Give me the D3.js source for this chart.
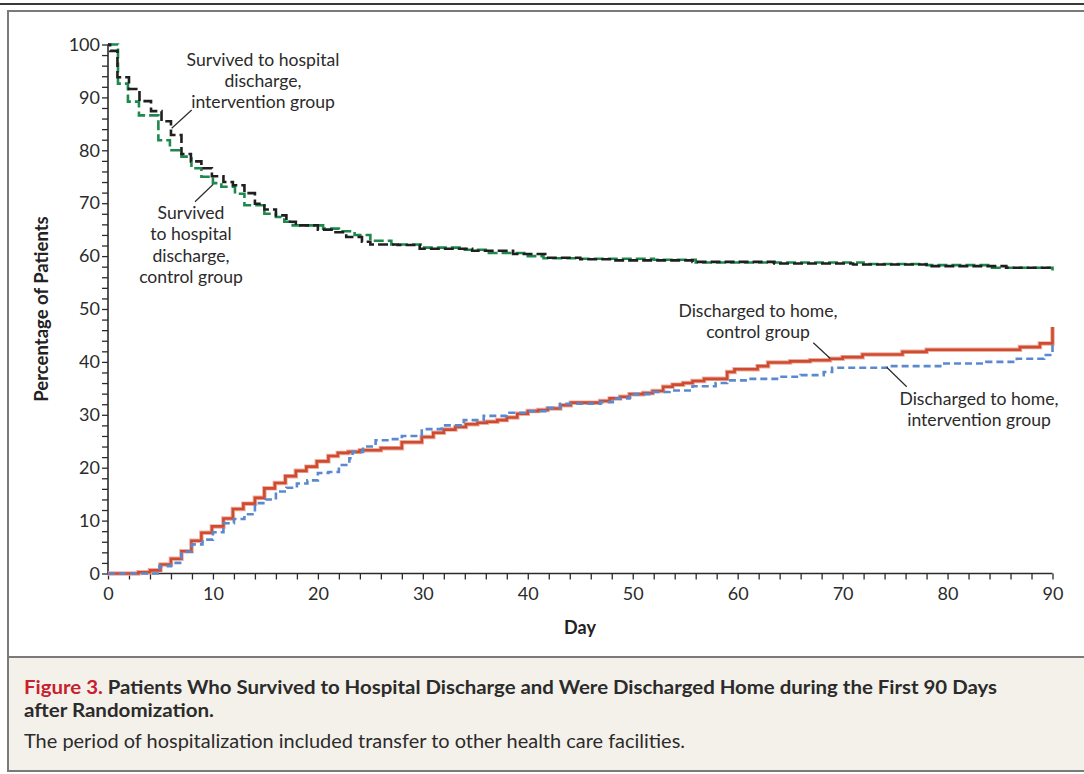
<!DOCTYPE html>
<html><head><meta charset="utf-8">
<script src="https://cdn.jsdelivr.net/npm/d3@7"></script>
<style>
html,body{margin:0;padding:0;background:#fff;}
svg{display:block;}
</style>
</head><body>
<svg id="chart" width="1084" height="774"></svg>
<script>
// ---- data (day, percentage) step series ----
const survivedIntervention = [[0,100],[0.2,98.8],[0.9,93.8],[2.0,91.6],[3.0,89.3],[4.1,87.4],[5.1,85.5],[6.0,82.9],[7.0,79.3],[7.9,77.9],[8.9,76.6],[9.9,75.1],[11.0,74.0],[11.9,73.4],[13.0,71.9],[14.0,69.9],[14.9,68.8],[16.0,67.7],[17.0,66.5],[17.9,65.8],[20.0,65.0],[21.3,64.5],[22.7,63.6],[24.2,62.7],[25.0,62.2],[27.6,62.1],[29.7,61.4],[34.7,61.0],[38.6,60.4],[41.8,59.7],[45.0,59.4],[48.0,59.2],[55.7,58.9],[63.5,58.6],[71.0,58.4],[78.0,58.1],[85.6,57.8],[90,57.5]];
const survivedControl = [[0,100],[0.95,92.6],[1.9,89.2],[2.95,86.6],[4.8,81.9],[5.9,80.0],[7.0,78.8],[7.95,76.6],[8.9,75.0],[10.0,73.8],[10.8,73.1],[12.1,71.8],[13.0,69.6],[14.9,68.0],[16.0,67.4],[16.8,66.5],[17.6,65.8],[20.5,65.2],[22.0,64.7],[23.5,64.0],[25.0,62.9],[27.0,62.2],[30.0,61.6],[34.0,61.2],[36.0,60.6],[40.0,60.0],[41.5,59.6],[45.0,59.5],[52.0,59.3],[56.0,58.8],[66.0,58.8],[72.0,58.5],[78.0,58.3],[84.0,57.8],[90,57.3]];
const homeControl = [[0,0],[2.9,0.25],[4,0.6],[5,1.7],[6,2.8],[7,4.2],[7.95,6.2],[8.9,7.7],[9.9,8.9],[11,10.4],[11.9,12.2],[12.9,13.2],[14,14.3],[14.9,16.1],[15.9,17.1],[16.9,18.4],[17.9,19.4],[18.9,20.2],[19.9,21.2],[21,22.2],[21.9,22.8],[22.9,23.0],[24,23.3],[26,23.7],[28,24.8],[29.9,25.8],[31,26.6],[32,27.2],[33.1,27.7],[34.1,28.2],[35.2,28.5],[36.1,28.7],[37.1,29.0],[38,29.5],[39,30.2],[40,30.7],[41,30.9],[41.9,31.2],[43.1,31.8],[44.1,32.3],[46.9,32.6],[47.8,33.1],[48.8,33.4],[49.7,33.9],[51,34.1],[51.9,34.5],[52.9,35.3],[53.8,35.7],[54.8,36.0],[55.7,36.4],[56.8,36.8],[59,38.1],[59.7,38.6],[61.9,39.2],[62.9,39.9],[65,40.1],[66.9,40.3],[68.8,40.6],[70,40.9],[71.9,41.4],[75.7,41.9],[78,42.3],[86.9,42.8],[88.8,43.5],[90,46.6]];
const homeIntervention = [[0,0],[4.9,1.4],[6,2.0],[7,4.1],[8,5.5],[9,6.4],[10,7.8],[11,9.5],[12,10.3],[13,11.2],[14,13.3],[15,14.0],[16,15.5],[17,16.2],[18,17.0],[19,17.6],[20,19.0],[21,19.2],[22,20.5],[23,21.8],[23.3,23.0],[24.3,24.0],[25.5,25.2],[26.8,25.4],[28,26.0],[29.9,27.3],[31.8,28.0],[33.9,29.0],[35.8,29.8],[38,30.4],[40,30.7],[41.9,31.3],[43.1,32.1],[46.9,32.4],[48.1,33.1],[49.7,33.9],[51.9,34.3],[53.5,34.6],[55.7,35.4],[57.9,36.0],[59,36.5],[61,36.8],[64,37.2],[66,37.5],[68.2,38.1],[69,38.9],[74.2,39.2],[79.3,39.7],[83.7,40.0],[86.6,40.6],[89.2,41.3],[90,43.8]];
const xTicks = [0,10,20,30,40,50,60,70,80,90];
const yTicks = [0,10,20,30,40,50,60,70,80,90,100];
const xLabel = "Day";
const yLabel = "Percentage of Patients";
const annotations = [
  {lines:["Survived to hospital","discharge,","intervention group"]},
  {lines:["Survived","to hospital","discharge,","control group"]},
  {lines:["Discharged to home,","control group"]},
  {lines:["Discharged to home,","intervention group"]}
];
const captionTitle = "Figure 3.";
const captionBold1 = " Patients Who Survived to Hospital Discharge and Were Discharged Home during the First 90 Days";
const captionBold2 = "after Randomization.";
const captionText = "The period of hospitalization included transfer to other health care facilities.";

// ---- drawing ----
const svg = d3.select("#chart");
const font = "Lato, 'Open Sans', sans-serif";

// frame
svg.append("line").attr("x1",0).attr("x2",1084).attr("y1",4).attr("y2",4)
  .attr("stroke","#3a3a3a").attr("stroke-width",2.2);
svg.append("rect").attr("x",8).attr("y",11).attr("width",1090).attr("height",646)
  .attr("fill","#fff").attr("stroke","#7a7a7a").attr("stroke-width",2);
svg.append("rect").attr("x",8).attr("y",657).attr("width",1090).attr("height",114)
  .attr("fill","#f4f1ea").attr("stroke","#7a7a7a").attr("stroke-width",2);

const x = d3.scaleLinear().domain([0,90]).range([108,1052.5]);
const y = d3.scaleLinear().domain([0,100]).range([573.5,44.5]);

// axes
const gx = svg.append("g").attr("transform",`translate(0,${y(0)})`);
gx.call(d3.axisBottom(x).tickValues(d3.range(0,91,2)).tickSize(6).tickFormat(""));
gx.call(g=>g.select(".domain").remove());
gx.append("g").call(d3.axisBottom(x).tickValues(xTicks).tickSize(0).tickPadding(14))
  .call(g=>g.select(".domain").remove());
const gy = svg.append("g").attr("transform",`translate(${x(0)},0)`);
gy.call(d3.axisLeft(y).tickValues(d3.range(0,101,2)).tickSize(6).tickFormat(""));
gy.call(g=>g.select(".domain").remove());
gy.append("g").call(d3.axisLeft(y).tickValues(yTicks).tickSize(0).tickPadding(8))
  .call(g=>g.select(".domain").remove());
svg.selectAll(".tick line").attr("stroke","#2b2b2b").attr("stroke-width",1.3);
svg.selectAll(".tick text").attr("font-family",font).attr("font-size",18).attr("fill","#2b2b2b");
svg.append("line").attr("x1",x(0)).attr("x2",x(90)).attr("y1",y(0)).attr("y2",y(0))
  .attr("stroke","#2b2b2b").attr("stroke-width",1.6);
svg.append("line").attr("x1",x(0)).attr("x2",x(0)).attr("y1",y(0)).attr("y2",y(100))
  .attr("stroke","#2b2b2b").attr("stroke-width",1.6);

svg.append("text").attr("x",580).attr("y",634).attr("text-anchor","middle")
  .attr("font-family",font).attr("font-weight","bold").attr("font-size",18).attr("fill","#222").text(xLabel);
svg.append("text").attr("transform","translate(48,309) rotate(-90)").attr("text-anchor","middle")
  .attr("font-family",font).attr("font-weight","bold").attr("font-size",18.5).attr("fill","#222").text(yLabel);

// lines
const line = d3.line().x(d=>x(d[0])).y(d=>y(d[1])).curve(d3.curveStepAfter);
function draw(data,color,width,dash,offset){
  svg.append("path").datum(data).attr("d",line).attr("fill","none")
    .attr("stroke",color).attr("stroke-width",width)
    .attr("stroke-dasharray",dash||null).attr("stroke-dashoffset",offset||0);
}
draw(homeControl,"#eab0a2",4.5);
draw(homeControl,"#cf4a2e",2.6);
draw(homeIntervention,"#5b89cf",2.6,"7,4");
draw(survivedControl,"#1d8a4c",2.6,"10,4",0);
draw(survivedIntervention,"#1f1f1f",2.6,"10,4",6);

// annotations
const ann = [
  {cx:263, y0:66, lh:21, lx1:191.7, ly1:110, lx2:171.7, ly2:128.3},
  {cx:191, y0:219, lh:21.3, lx1:213.3, ly1:184.3, lx2:195, ly2:201.7},
  {cx:758, y0:317, lh:21, lx1:813.3, ly1:342.7, lx2:830, ly2:358.3},
  {cx:979, y0:405, lh:21, lx1:886.7, ly1:367.3, lx2:906.7, ly2:386.7}
];
annotations.forEach((a,i)=>{
  const p = ann[i];
  const t = svg.append("text").attr("text-anchor","middle").attr("font-family",font)
    .attr("font-size",17.6).attr("fill","#2b2b2b");
  a.lines.forEach((l,j)=>t.append("tspan").attr("x",p.cx).attr("y",p.y0+j*p.lh).text(l));
  svg.append("line").attr("x1",p.lx1).attr("y1",p.ly1).attr("x2",p.lx2).attr("y2",p.ly2)
    .attr("stroke","#2b2b2b").attr("stroke-width",1.2);
});

// caption
const c1 = svg.append("text").attr("x",24).attr("y",694).attr("font-family",font)
  .attr("font-weight","bold").attr("font-size",18.5).attr("fill","#2b2b2b")
  .attr("textLength",973).attr("lengthAdjust","spacingAndGlyphs");
c1.append("tspan").attr("fill","#c8202e").text(captionTitle);
c1.append("tspan").text(captionBold1);
svg.append("text").attr("x",24).attr("y",717).attr("font-family",font)
  .attr("font-weight","bold").attr("font-size",18.5).attr("fill","#2b2b2b")
  .attr("textLength",190).attr("lengthAdjust","spacingAndGlyphs").text(captionBold2);
svg.append("text").attr("x",24).attr("y",748).attr("font-family",font)
  .attr("font-size",18.5).attr("fill","#2b2b2b")
  .attr("textLength",661).attr("lengthAdjust","spacingAndGlyphs").text(captionText);
</script>
</body></html>
